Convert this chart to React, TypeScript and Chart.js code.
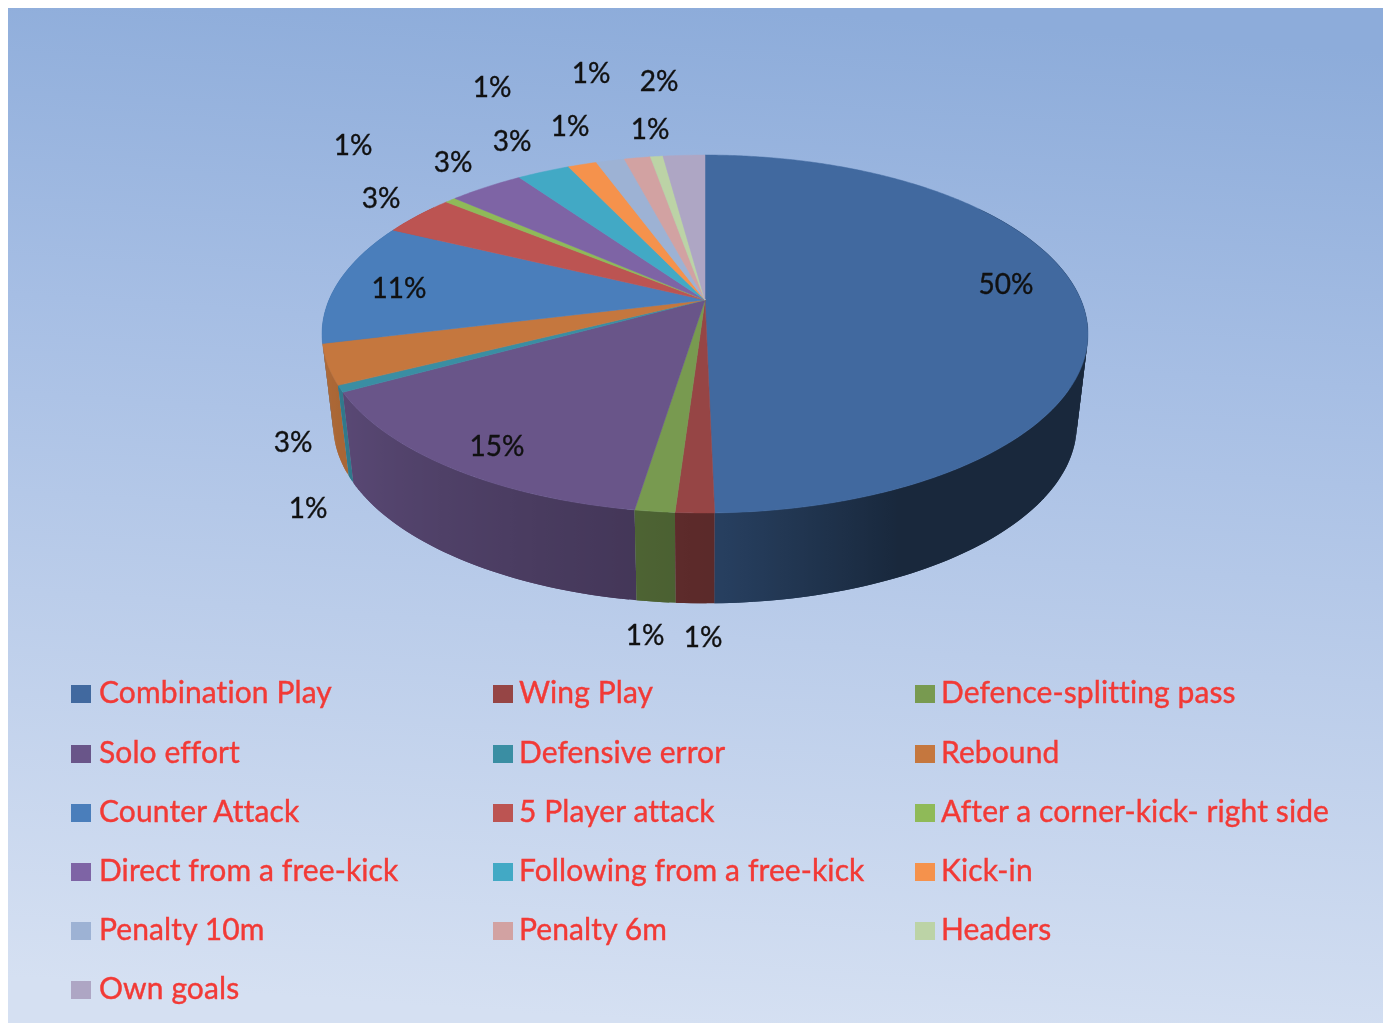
import React, { useEffect, useRef } from "react";
import { Chart, registerables } from "chart.js";

Chart.register(...registerables);

// ---- data ----
const categories = [
  "Combination Play", "Wing Play", "Defence-splitting pass",
  "Solo effort", "Defensive error", "Rebound",
  "Counter Attack", "5 Player attack", "After a corner-kick- right side",
  "Direct from a free-kick", "Following from a free-kick", "Kick-in",
  "Penalty 10m", "Penalty 6m", "Headers",
  "Own goals",
];
const shares = [49.67, 1.36, 1.4, 14.5, 0.6, 3.6, 11.1, 3.75, 0.55, 3.8, 2.67, 1.47, 1.44, 1.33, 0.64, 2.12];
const shareLabels = ["50%", "1%", "1%", "15%", "1%", "3%", "11%", "3%", "1%", "3%", "3%", "1%", "1%", "1%", "1%", "2%"];
const sliceColors = [
  "#41699f", "#964545", "#789a50", "#695589", "#3a8ea3", "#c5773e", "#4a7ebb", "#bc5452",
  "#8fba58", "#7e64a5", "#42a9c5", "#f5924c", "#9db2d4", "#d2a2a2", "#bcd3a6", "#aea6c4",
];
// label anchors in page pixels (data labels placed by hand in the original)
const labelAnchors: [number, number][] = [
  [1006, 285], [703, 638], [645, 636], [497, 447], [308, 509], [293, 443], [399, 289], [381, 199],
  [353, 146], [453, 163], [512, 142], [570, 127], [492, 88], [650, 130], [591, 74], [659, 82],
];

const PAGE = 8;
const W = 1375;
const H = 1015;
const TOP = { cx: 705, cy: 300, r: 376, h: 172.5 };
const BOTTOM = { cx: 705, cy: 391, r: 365, h: 172 };
const K = 0.19;

const project = (theta: number, p: typeof TOP) => {
  const u = Math.sin(theta);
  const v = -Math.cos(theta);
  const w = 1 - K * v;
  return [p.cx + (p.r * u) / w, p.cy + (p.h * v) / w];
};

const rgb = (hex: string) => [1, 3, 5].map((i) => parseInt(hex.slice(i, i + 2), 16));

const shadeFactor = (theta: number) => {
  const deg = ((theta * 180) / Math.PI + 360) % 360;
  const stops = [[0, 0.38], [155, 0.38], [178, 0.6], [190, 0.65], [240, 0.85], [256, 0.9], [360, 0.9]];
  for (let i = 1; i < stops.length; i++) {
    if (deg <= stops[i][0]) {
      const t = (deg - stops[i - 1][0]) / (stops[i][0] - stops[i - 1][0]);
      return stops[i - 1][1] + t * (stops[i][1] - stops[i - 1][1]);
    }
  }
  return 0.9;
};

const shaded = (hex: string, theta: number) => {
  const f = shadeFactor(theta);
  const c = rgb(hex).map((x) => Math.round(x * f));
  return `rgb(${c[0]},${c[1]},${c[2]})`;
};

const backdrop = {
  id: "backdrop",
  beforeDraw(chart: any) {
    const { ctx } = chart;
    const g = ctx.createLinearGradient(730, 0, 660, H);
    g.addColorStop(0, "#8dacda");
    g.addColorStop(0.33, "#a6bee4");
    g.addColorStop(0.62, "#bbcdea");
    g.addColorStop(1, "#d5e0f2");
    ctx.save();
    ctx.fillStyle = g;
    ctx.fillRect(0, 0, W, H);
    ctx.restore();
  },
};

const pie3d = {
  id: "pie3d",
  beforeDatasetsDraw(chart: any) {
    const { ctx } = chart;
    const arcs = chart.getDatasetMeta(0).data;
    const ds = chart.data.datasets[0];
    ctx.save();
    ctx.translate(-PAGE, -PAGE);

    // side walls, back to front: overlapping quads sharing one left-to-right shade per slice
    const VMIN = -0.6;
    const walls: any[] = [];
    arcs.forEach((arc: any, i: number) => {
      const a0 = arc.startAngle + Math.PI / 2;
      const a1 = arc.endAngle + Math.PI / 2;
      const n = Math.max(4, Math.ceil((a1 - a0) / (Math.PI / 180)));
      const ts: number[] = [];
      for (let s = 0; s <= n; s++) {
        const t = a0 + ((a1 - a0) * s) / n;
        if (-Math.cos(t) >= VMIN) ts.push(t);
      }
      if (ts.length < 2) return;
      walls.push({ i, ts, depth: Math.max(...ts.map((t) => -Math.cos(t))) });
    });
    walls.sort((a, b) => a.depth - b.depth);
    walls.forEach(({ i, ts }) => {
      const hex = ds.backgroundColor[i];
      const top = ts.map((t: number) => project(t, TOP));
      const bot = ts.map((t: number) => project(t, BOTTOM));
      const xs = [...top, ...bot].map((p) => p[0]);
      const x0 = Math.min(...xs);
      const x1 = Math.max(...xs);
      const g = ctx.createLinearGradient(x0, 0, x1, 0);
      const front = ts.filter((t: number) => -Math.cos(t) >= K);
      const sampled = (front.length ? front : ts).map((t: number) => ({
        o: (project(t, TOP)[0] - x0) / Math.max(1, x1 - x0),
        t,
      }));
      sampled.sort((a: any, b: any) => a.o - b.o);
      sampled.forEach((s: any) => g.addColorStop(Math.min(1, Math.max(0, s.o)), shaded(hex, s.t)));
      ctx.fillStyle = g;
      for (let k = 0; k < ts.length - 1; k++) {
        const e = Math.min(ts.length - 1, k + 2);
        ctx.beginPath();
        ctx.moveTo(top[k][0], top[k][1]);
        ctx.lineTo(top[e][0], top[e][1]);
        ctx.lineTo(bot[e][0], bot[e][1]);
        ctx.lineTo(bot[k][0], bot[k][1]);
        ctx.closePath();
        ctx.fill();
      }
    });

    // top face
    arcs.forEach((arc: any, i: number) => {
      const a0 = arc.startAngle + Math.PI / 2;
      const a1 = arc.endAngle + Math.PI / 2;
      const n = Math.max(2, Math.ceil((a1 - a0) / (Math.PI / 360)));
      ctx.beginPath();
      ctx.moveTo(TOP.cx, TOP.cy);
      for (let s = 0; s <= n; s++) {
        const p = project(a0 + ((a1 - a0) * s) / n, TOP);
        ctx.lineTo(p[0], p[1]);
      }
      ctx.closePath();
      ctx.fillStyle = ds.backgroundColor[i];
      ctx.strokeStyle = ds.backgroundColor[i];
      ctx.lineWidth = 0.5;
      ctx.fill();
      ctx.stroke();
    });

    // share labels
    ctx.font = "28px Lato";
    ctx.fillStyle = "#111111";
    ctx.strokeStyle = "#111111";
    ctx.lineWidth = 0.35;
    ctx.textAlign = "center";
    ctx.textBaseline = "middle";
    shareLabels.forEach((t, i) => {
      ctx.fillText(t, labelAnchors[i][0], labelAnchors[i][1]);
      ctx.strokeText(t, labelAnchors[i][0], labelAnchors[i][1]);
    });
    ctx.restore();
    return false;
  },
};

const gridLegend = {
  id: "gridLegend",
  afterDraw(chart: any) {
    const { ctx } = chart;
    const items = chart.options.plugins.legend.labels.generateLabels(chart);
    const swatchX = [71, 493, 915];
    const textX = [99, 519, 941];
    const rows = [693, 753, 812, 871, 930, 989];
    ctx.save();
    ctx.translate(-PAGE, -PAGE);
    ctx.font = "30px Lato";
    (ctx as any).letterSpacing = "0.1px";
    (ctx as any).fontKerning = "normal";
    ctx.textBaseline = "middle";
    ctx.textAlign = "left";
    items.forEach((it: any, i: number) => {
      const c = i % 3;
      const y = rows[Math.floor(i / 3)];
      ctx.fillStyle = it.fillStyle;
      ctx.fillRect(swatchX[c], y - 8, 20, 18);
      ctx.fillStyle = "#f23a36";
      ctx.strokeStyle = "#f23a36";
      ctx.lineWidth = 0.4;
      ctx.fillText(it.text, textX[c], y);
      ctx.strokeText(it.text, textX[c], y);
    });
    ctx.restore();
  },
};

export default function App() {
  const ref = useRef<HTMLCanvasElement>(null);
  useEffect(() => {
    const chart = new Chart(ref.current!, {
      type: "pie",
      data: {
        labels: categories,
        datasets: [{ data: shares, backgroundColor: sliceColors, borderWidth: 0 }],
      },
      options: {
        animation: false,
        responsive: false,
        devicePixelRatio: 1,
        events: [],
        rotation: 0,
        plugins: { legend: { display: false }, tooltip: { enabled: false } },
      },
      plugins: [backdrop, pie3d, gridLegend],
    } as any);
    return () => chart.destroy();
  }, []);
  return (
    <div style={{ position: "absolute", left: PAGE, top: PAGE, width: W, height: H, overflow: "hidden" }}>
      <canvas
        ref={ref}
        width={W}
        height={H}
        style={{ display: "block", width: W, height: H, maxWidth: "none", filter: "blur(0.7px)" }}
      />
    </div>
  );
}
